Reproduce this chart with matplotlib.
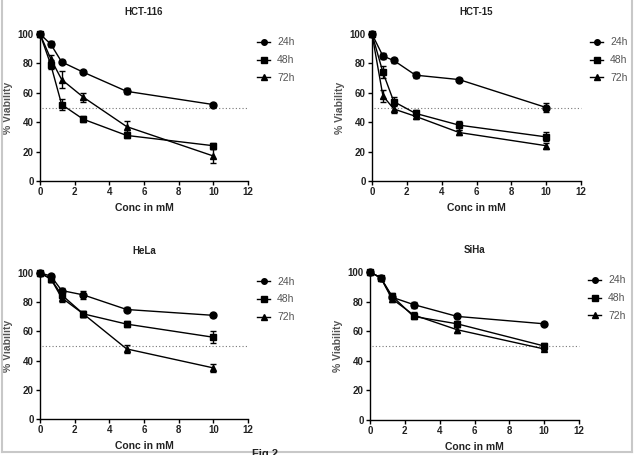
import numpy as np
import matplotlib
matplotlib.use("Agg")
import matplotlib.pyplot as plt
from matplotlib.lines import Line2D

plt.rcParams['font.family'] = ['Liberation Sans', 'DejaVu Sans']

# concentrations (mM)
conc = [0, 0.625, 1.25, 2.5, 5, 10]
times = ['24h', '48h', '72h']

# cell line names
cells = ['HCT-116', 'HCT-15', 'HeLa', 'SiHa']

# % viability per cell line, per time point
hct116_mean = [[100, 93, 81, 74, 61, 52],
               [100, 79, 52, 42, 31, 24],
               [100, 83, 69, 57, 37, 17]]
hct116_err = [[0, 2, 1, 1.5, 2, 1],
              [0, 3, 4, 2, 2, 2],
              [0, 3, 6, 3, 4, 5]]

hct15_mean = [[100, 85, 82, 72, 69, 50],
              [100, 74, 54, 46, 38, 30],
              [100, 58, 49, 44, 33, 24]]
hct15_err = [[0, 2, 2, 2, 1, 3],
             [0, 4, 3, 2, 3, 3],
             [0, 4, 3, 2, 2, 2]]

hela_mean = [[100, 98, 88, 85, 75, 71],
             [100, 96, 85, 72, 65, 56],
             [100, 96, 83, 72, 48, 35]]
hela_err = [[0, 1, 2, 3, 2, 1],
            [0, 2, 2, 2, 2, 4],
            [0, 2, 3, 2, 3, 3]]

siha_mean = [[100, 96, 83, 78, 70, 65],
             [100, 96, 84, 70, 65, 50],
             [100, 96, 82, 71, 61, 48]]
siha_err = [[0, 1, 1, 2, 1, 1],
            [0, 1, 2, 2, 2, 2],
            [0, 1, 2, 2, 2, 1]]

means = [hct116_mean, hct15_mean, hela_mean, siha_mean]
errs = [hct116_err, hct15_err, hela_err, siha_err]

markers = ['o', 's', '^']

W, H = 636, 455
fig = plt.figure(figsize=(W / 100, H / 100), dpi=100)

# axes boxes in pixels: x0, x1, y_top, y_bottom
boxes = [(40, 248, 34, 181),
         (372, 581, 34, 181),
         (40, 248, 273, 419),
         (370, 579, 272, 420)]

for i in range(4):
	x0, x1, yt, yb = boxes[i]
	ax = fig.add_axes([x0 / W, (H - yb) / H, (x1 - x0) / W, (yb - yt) / H])
	ax.axhline(50, color='#777777', linestyle=(0, (1, 2)), linewidth=0.8, xmin=0.01, xmax=1.0, clip_on=False)
	for j in range(3):
		ax.errorbar(conc, means[i][j], yerr=errs[i][j], color='black', marker=markers[j],
		            markersize=5, linewidth=1, capsize=2.5, elinewidth=1, capthick=1,
		            label=times[j], clip_on=False)
	ax.set_xlim(0, 12)
	ax.set_ylim(0, 100)
	ax.set_xticks(range(0, 13, 2))
	ax.set_yticks(range(0, 101, 20))
	for s in ['top', 'right']:
		ax.spines[s].set_visible(False)
	for s in ['left', 'bottom']:
		ax.spines[s].set_linewidth(1)
	ax.tick_params(length=3, width=1, labelsize=7, colors='black', labelcolor='#222222', pad=1.5)
	for lab in ax.get_xticklabels() + ax.get_yticklabels():
		lab.set_fontweight('bold')
	ax.set_xlabel('Conc in mM', fontsize=7.5, fontweight='bold', color='#222222', labelpad=4)
	ax.set_ylabel('% Viability', fontsize=7.5, fontweight='bold', color='#555555', labelpad=3)
	ax.set_title(cells[i], fontsize=7, fontweight='bold', color='#222222', pad=14)
	handles = [Line2D([], [], color='black', marker=markers[k], markersize=4, linewidth=1) for k in range(3)]
	leg = ax.legend(handles, times, loc='upper left', bbox_to_anchor=(1.0, 1.04), frameon=False,
	                fontsize=7.5, handlelength=1.2, handletextpad=0.7, labelspacing=0.75,
	                borderaxespad=0.5)
	for t in leg.get_texts():
		t.set_color('#555555')

# partially visible figure caption at the bottom edge
fig.text(265 / W, 6 / H, 'Fig 2', fontsize=8, fontweight='bold', color='#222222',
         ha='center', va='top')

# light frame around the figure
fc = '#c8c8c8'
fig.add_artist(Line2D([1.5 / W, 1.5 / W], [3 / H, 1], color=fc, linewidth=1.5, transform=fig.transFigure))
fig.add_artist(Line2D([632 / W, 632 / W], [3 / H, 1], color=fc, linewidth=1.5, transform=fig.transFigure))
fig.add_artist(Line2D([1.5 / W, 632 / W], [3 / H, 3 / H], color=fc, linewidth=1.5, transform=fig.transFigure))

fig.savefig('out.png', dpi=100, facecolor='white')
